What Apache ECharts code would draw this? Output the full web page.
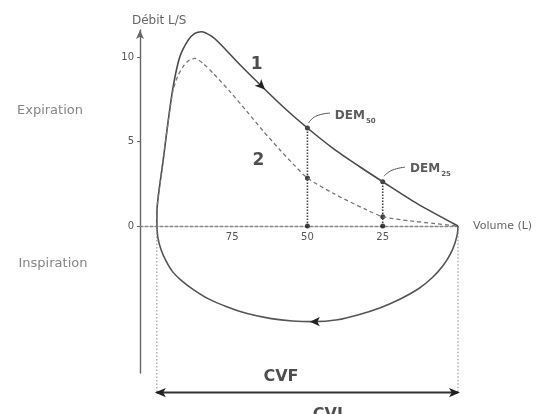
<!DOCTYPE html>
<html>
<head>
<meta charset="utf-8">
<script src="https://cdn.jsdelivr.net/npm/echarts@6/dist/echarts.min.js"></script>
<style>
html,body{margin:0;padding:0;background:#fff;}
#chart{width:555px;height:414px;}
</style>
</head>
<body>
<div id="chart"></div>
<script>
// ---- data ----
const volumeTicks = [75, 50, 25];            // % of vital capacity (axis reversed)
const flowTicks = [0, 5, 10];                // L/s
const curveNormal = [[100,0],[99.9,1.1],[97.9,3.9],[96.2,6.27],[94.6,8.24],[92.4,10.0],[89.6,11.0],[87.4,11.4],[85.2,11.5],[82,11.25],[79.1,10.8],[72.4,9.54],[64.1,8.08],[57,6.88],[50,5.8],[41.4,4.58],[33,3.55],[25,2.62],[13.7,1.34],[0,0]];
const curveObstructive = [[100,0],[99.9,1.1],[97.9,3.9],[96.2,6.27],[94.8,7.9],[93,8.9],[91,9.5],[89.2,9.82],[87.4,9.92],[84.5,9.6],[81.3,9.04],[75.7,7.95],[70.2,6.8],[64.7,5.62],[59.1,4.5],[54.7,3.66],[50,2.84],[41.4,1.93],[30.3,0.95],[25,0.55],[15.9,0.3],[8.2,0.15],[0,0]];
const curveInspiration = [[100,0],[99.6,-0.75],[98.6,-1.4],[97,-2.05],[94.8,-2.7],[92,-3.2],[88,-3.75],[83,-4.3],[77,-4.76],[70,-5.18],[62,-5.48],[55,-5.62],[48,-5.66],[40,-5.55],[33,-5.25],[26,-4.85],[19.5,-4.35],[13,-3.7],[8.5,-3.05],[5,-2.35],[2.5,-1.65],[1,-1.0],[0.2,-0.45],[0,0]];
const dem50Drop = [[50,0],[50,5.8]];
const dem25Drop = [[25,0],[25,2.62]];
const dem50Leader = [[49.6,6.1],[47.2,6.5],[42.5,6.68]];
const dem25Leader = [[24.6,2.95],[21.9,3.3],[17.6,3.48]];
const keyPoints = [[50,5.8],[50,2.84],[50,0],[25,2.62],[25,0.55],[25,0]];
const cvLeftBound = [[100,0],[100,-9.86]];
const cvRightBound = [[0,-0.4],[0,-9.86]];
const cvfSpan = [[100,-9.86],[0,-9.86]];

const Y_MIN = -8.7, Y_MAX = 11.6;
const GRID = {left:140, right:97, top:30, bottom:41};
const gridH = 414 - GRID.top - GRID.bottom;
const zeroOffset = -gridH * (0 - Y_MIN) / (Y_MAX - Y_MIN);  // lift x axis (with its labels) to y = 0

const chart = echarts.init(document.getElementById('chart'), null, {renderer:'canvas'});
const FONT = 'DejaVu Sans';
const grey = '#555';

function lab(x, y, text, style){
  return {value:[x,y], label:Object.assign({show:true, position:[0,0], formatter:text, fontFamily:FONT, color:grey, align:'center', verticalAlign:'middle'}, style||{})};
}
const demRich = {
  a:{fontFamily:FONT, fontSize:12, fontWeight:'bold', color:'#333', lineHeight:14, verticalAlign:'bottom'},
  b:{fontFamily:FONT, fontSize:7, fontWeight:'bold', color:'#333', lineHeight:14, verticalAlign:'bottom', padding:[0,0,-3,1]}
};

const option = {
  backgroundColor:'#fff',
  animation:false,
  grid:GRID,
  xAxis:{
    type:'value', inverse:true, min:0, max:105.6,
    position:'bottom', offset:zeroOffset,
    name:'Volume (L)', nameLocation:'start', nameGap:15,
    nameTextStyle:{fontFamily:FONT, fontSize:11, color:'#666', align:'left', verticalAlign:'middle'},
    axisLine:{onZero:false, lineStyle:{color:'#888', width:1.3, type:[3,2]}},
    axisTick:{show:false},
    axisLabel:{customValues:volumeTicks, margin:6, fontFamily:FONT, fontSize:10, color:grey},
    splitLine:{show:false}
  },
  yAxis:{
    type:'value', min:Y_MIN, max:Y_MAX,
    name:'Débit L/S', nameLocation:'end', nameGap:3,
    nameTextStyle:{fontFamily:FONT, fontSize:12, color:'#666', align:'left', verticalAlign:'bottom', padding:[0,0,0,-8]},
    axisLine:{onZero:false, symbol:['none','arrow'], symbolSize:[6,9], lineStyle:{color:'#666', width:1.4}},
    axisTick:{customValues:flowTicks, length:3, lineStyle:{color:'#666'}},
    axisLabel:{customValues:flowTicks, margin:6, fontFamily:FONT, fontSize:10, color:grey},
    splitLine:{show:false}
  },
  series:[
    {type:'line', name:'1', data:curveNormal, smooth:0.25, symbol:'none', clip:false,
     lineStyle:{color:'#4a4a4a', width:1.6},
     markPoint:{symbol:'arrow', symbolSize:[7,10], symbolRotate:-135, itemStyle:{color:'#222'}, label:{show:false},
       data:[{coord:[64.1,8.08]}]}},
    {type:'line', name:'2', data:curveObstructive, smooth:0.25, symbol:'none', clip:false,
     lineStyle:{color:'#777', width:1.3, type:[4,3]}},
    {type:'line', name:'inspiration', data:curveInspiration, smooth:0.3, symbol:'none', clip:false,
     lineStyle:{color:'#555', width:1.6},
     markPoint:{symbol:'arrow', symbolSize:[7,10], symbolRotate:90, itemStyle:{color:'#222'}, label:{show:false},
       data:[{coord:[49.2,-5.66]}]}},
    {type:'line', data:dem50Drop, symbol:'none', clip:false, lineStyle:{color:'#444', width:1.6, type:[1.5,1.5]}},
    {type:'line', data:dem25Drop, symbol:'none', clip:false, lineStyle:{color:'#444', width:1.6, type:[1.5,1.5]}},
    {type:'line', data:dem50Leader, smooth:0.5, symbol:'none', clip:false, lineStyle:{color:'#555', width:1}},
    {type:'line', data:dem25Leader, smooth:0.5, symbol:'none', clip:false, lineStyle:{color:'#555', width:1}},
    {type:'line', data:cvLeftBound, symbol:'none', clip:false, lineStyle:{color:'#888', width:1, type:[1.5,2]}},
    {type:'line', data:cvRightBound, symbol:'none', clip:false, lineStyle:{color:'#888', width:1, type:[1.5,2]}},
    {type:'line', clip:false, showSymbol:true, symbol:'arrow', symbolSize:[7,11],
     data:[{value:cvfSpan[0], symbolRotate:90, symbolOffset:[-2,0]},{value:cvfSpan[1], symbolRotate:-90, symbolOffset:[2,0]}],
     itemStyle:{color:'#222'}, lineStyle:{color:'#333', width:2}},
    {type:'scatter', data:keyPoints, symbolSize:5, clip:false, itemStyle:{color:'#111'}},
    {type:'scatter', symbolSize:0, clip:false, silent:true,
     data:[
       lab(135.5, 6.8, 'Expiration', {fontSize:13, color:'#666'}),
       lab(134.5, -2.2, 'Inspiration', {fontSize:13, color:'#666'}),
       lab(66.9, 9.53, '1', {fontSize:17, fontWeight:'bold', color:'#222'}),
       lab(66.3, 3.9, '2', {fontSize:17, fontWeight:'bold', color:'#222'}),
       lab(40.9, 6.6, '{a|DEM}{b|50}', {align:'left', rich:demRich}),
       lab(15.9, 3.45, '{a|DEM}{b|25}', {align:'left', rich:demRich}),
       lab(58.8, -8.93, 'CVF', {fontSize:16, fontWeight:'bold', color:'#222'}),
       lab(43.2, -11.2, 'CVI', {fontSize:16, fontWeight:'bold', color:'#222'})
     ]}
  ]
};
chart.setOption(option);
</script>
</body>
</html>
